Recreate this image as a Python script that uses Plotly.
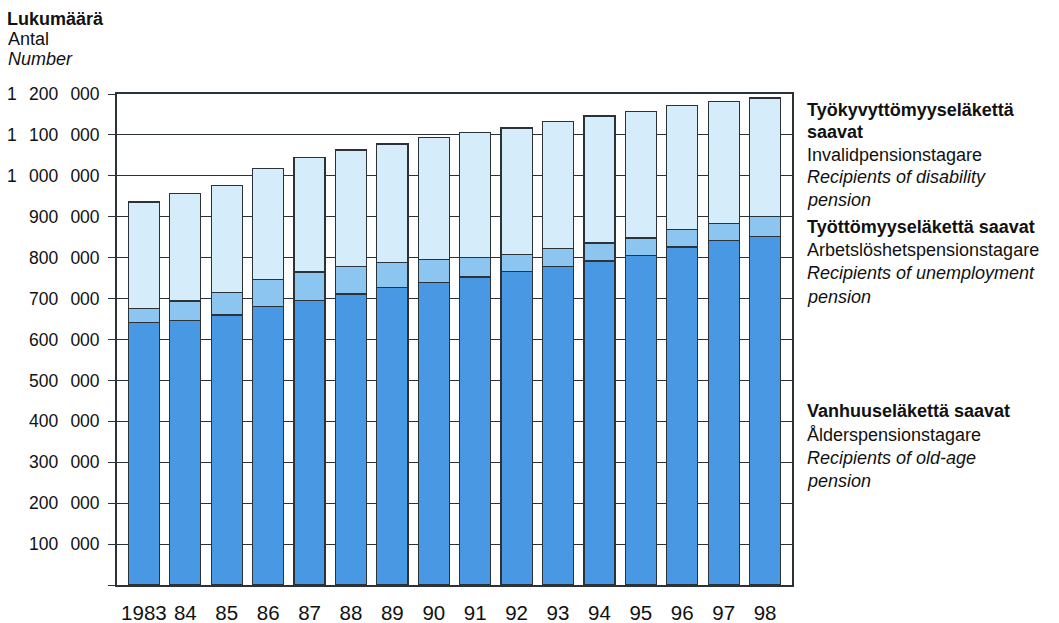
import plotly.graph_objects as go

years = ["1983", "84", "85", "86", "87", "88", "89", "90", "91", "92", "93", "94", "95", "96", "97", "98"]
old_age = [641000, 647000, 660000, 681000, 695000, 711000, 727000, 740000,
           753000, 766000, 779000, 792000, 806000, 826000, 841000, 852000]
unemployment = [34000, 47000, 55000, 65000, 70000, 68000, 62000, 56000,
                47000, 42000, 43000, 44000, 42000, 42000, 43000, 48000]
disability = [261000, 262000, 262000, 272000, 279000, 284000, 289000, 298000,
              305000, 309000, 311000, 310000, 309000, 303000, 298000, 290000]
y_ticks = [0, 100000, 200000, 300000, 400000, 500000, 600000, 700000, 800000,
           900000, 1000000, 1100000, 1200000]

def fmt(v):
    if v == 0:
        return ""
    return f"{v:,}".replace(",", "\u2002\u2009")

FONT = "Liberation Sans, Arial, Helvetica, sans-serif"
OUT = "#2b3338"

fig = go.Figure()
for name, vals, col in [
    ("Vanhuuseläkettä saavat", old_age, "#4898e3"),
    ("Työttömyyseläkettä saavat", unemployment, "#8dc5f1"),
    ("Työkyvyttömyyseläkettä saavat", disability, "#d5ecfa"),
]:
    fig.add_trace(go.Bar(x=years, y=vals, name=name, marker=dict(color=col, line=dict(color=OUT, width=1.2)),
                         width=0.75, showlegend=False))

OFF = 8  # page body margin
W, H = 1059 - OFF, 623 - OFF
L, R, T, B = 117 - OFF, 267, 94 - OFF, 38
pw, ph = W - L - R, H - T - B

fig.update_layout(
    barmode="stack",
    width=W, height=H,
    margin=dict(l=L, r=R, t=T, b=B, pad=0, autoexpand=False),
    plot_bgcolor="white", paper_bgcolor="white",
    font=dict(family=FONT, color="#111", size=17),
    xaxis=dict(type="category", range=[-0.65, 15.65], showgrid=False, automargin=False,
               showline=True, linecolor=OUT, linewidth=1.5, mirror=True,
               ticks="", tickfont=dict(size=20.5), ticklabelstandoff=9),
    yaxis=dict(range=[0, 1200000], tickvals=y_ticks, ticktext=[fmt(v) for v in y_ticks],
               automargin=False,
               showgrid=True, gridcolor=OUT, gridwidth=1.3,
               showline=True, linecolor=OUT, linewidth=1.8, mirror=True,
               ticks="outside", ticklen=7, tickcolor=OUT, tickwidth=1.3,
               tickfont=dict(size=17.5), ticklabelstandoff=5, zeroline=False),
)

def px(x):
    return (x - OFF - L) / pw

def py(y):
    return (H - B - (y - OFF)) / ph

# Top-left axis title
fig.add_annotation(xref="paper", yref="paper", x=px(6), y=py(OFF), text="<b>Lukumäärä</b>", showarrow=False,
                   xanchor="left", yanchor="top", borderpad=0, font=dict(size=18))
for text, y in [("Antal", 39), ("<i>Number</i>", 59)]:
    fig.add_annotation(xref="paper", yref="paper", x=px(6), y=py(y), text=text, showarrow=False,
                       xanchor="left", yanchor="middle", font=dict(size=18))

labels = [
    ("<b>Työkyvyttömyyseläkettä</b>", 110), ("<b>saavat</b>", 132), ("Invalidpensionstagare", 155),
    ("<i>Recipients of disability</i>", 177), ("<i>pension</i>", 200),
    ("<b>Työttömyyseläkettä saavat</b>", 227), ("Arbetslöshetspensionstagare", 250),
    ("<i>Recipients of unemployment</i>", 273), ("<i>pension</i>", 297),
    ("<b>Vanhuuseläkettä saavat</b>", 411), ("Ålderspensionstagare", 435),
    ("<i>Recipients of old-age</i>", 458), ("<i>pension</i>", 481),
]
for text, y in labels:
    fig.add_annotation(xref="paper", yref="paper", x=px(805), y=py(y), text=text, showarrow=False,
                       xanchor="left", yanchor="middle", font=dict(size=18))

fig.write_html("out.html")
